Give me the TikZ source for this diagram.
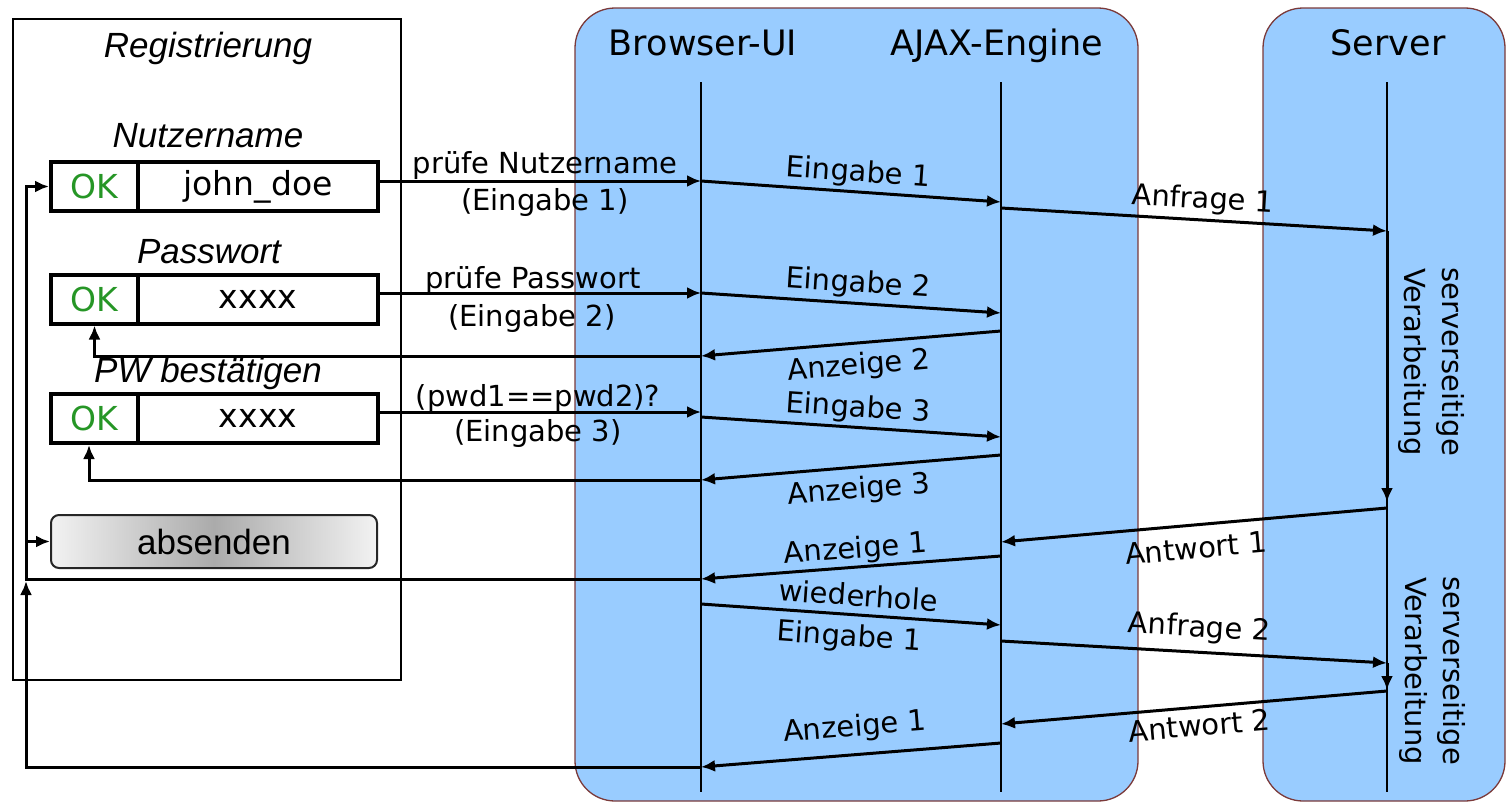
\documentclass[tikz,border=0pt]{standalone}
\usepackage{fontspec}
\setmainfont{DejaVu Sans}
\newfontfamily\arialfam{Liberation Sans}
\usetikzlibrary{arrows.meta}

\definecolor{lanefill}{HTML}{99CCFF}
\definecolor{laneedge}{HTML}{7B3A3A}
\definecolor{okgreen}{RGB}{38,150,38}

\newcommand\ttlsize{\fontsize{35}{42}\selectfont}
\newcommand\lblsize{\fontsize{29}{38}\selectfont}
\newcommand\formsize{\fontsize{35}{42}\selectfont}
\newcommand\fieldsize{\fontsize{33}{40}\selectfont}

\begin{document}
\begin{tikzpicture}[x=1pt,y=-1pt,
  lane/.style={fill=lanefill, draw=laneedge, line width=1.3pt, rounded corners=40pt},
  lifeline/.style={line width=2pt},
  msg/.style={line width=3pt, -{Latex[length=14pt,width=12pt]}},
  msgback/.style={line width=3pt, {Latex[length=14pt,width=12pt]}-},
  fb/.style={line width=3pt, -{Latex[length=14pt,width=12pt]}},
  ttl/.style={font=\ttlsize, inner sep=0pt, anchor=base},
  lbl/.style={font=\lblsize, inner sep=0pt, anchor=base},
  lblA/.style={font=\lblsize, sloped, above, inner sep=#1},
  lblA/.default=4pt,
  lblB/.style={font=\lblsize, sloped, below, inner sep=#1},
  lblB/.default=4pt,
  proc/.style={font=\lblsize, rotate=-90, align=center, inner sep=0pt},
  formlbl/.style={font=\arialfam\itshape\formsize, inner sep=0pt, anchor=base},
  okcell/.style={draw, line width=4pt, minimum width=87pt, minimum height=49pt,
    inner sep=0pt, font=\fieldsize, text=okgreen},
  valcell/.style={draw, line width=4pt, minimum width=240pt, minimum height=49pt,
    inner sep=0pt, font=\fieldsize},
  sendbtn/.style={draw=black!85, line width=2pt, rounded corners=8pt,
    minimum width=326pt, minimum height=53pt, inner sep=0pt,
    left color=black!5, right color=black!5, middle color=black!33,
    font=\arialfam\formsize}
]
\useasboundingbox (0,0) rectangle (1507,803);

% swim lanes
\draw[lane] (575,8) rectangle (1138,801);
\draw[lane] (1263,8) rectangle (1505,801);

% registration form
\draw[line width=2pt] (13,19) rectangle (401,680);
\node[formlbl] (tReg) at (208,57) {Registrierung};
\node[formlbl] (tUser) at (208,147) {Nutzername};
\node[formlbl] (tPw) at (209,263) {Passwort};
\node[formlbl] (tPw2) at (208,382) {PW bestätigen};

\node[okcell] (f1ok) at (94.5,186.5) {OK};
\node[valcell] (f1val) at (258,186.5) {john\_doe};
\node[okcell] (f2ok) at (94.5,299) {OK};
\node[valcell] (f2val) at (258,299) {xxxx};
\node[okcell] (f3ok) at (94.5,418.5) {OK};
\node[valcell] (f3val) at (258,418.5) {xxxx};
\node[sendbtn] (send) at (214,541.5) {absenden};

% lane titles
\node[ttl] (tUI) at (703,55) {Browser-UI};
\node[ttl] (tAJ) at (997,55) {AJAX-Engine};
\node[ttl] (tSV) at (1388,55) {Server};

% lifelines
\coordinate (uiTop) at (701,82);  \coordinate (uiBot) at (701,792);
\coordinate (ajTop) at (1001,82); \coordinate (ajBot) at (1001,792);
\coordinate (svTop) at (1387,82); \coordinate (svBot) at (1387,792);
\draw[lifeline] (uiTop) -- (uiBot);
\draw[lifeline] (ajTop) -- (ajBot);
\draw[lifeline] (svTop) -- (svBot);

% message end points
\coordinate (uiA) at (701,181);  \coordinate (ajA) at (1001,202);
\coordinate (ajB) at (1001,208); \coordinate (svB) at (1387,231);
\coordinate (svB2) at (1387,502); \coordinate (svC) at (1387,508);
\coordinate (uiC) at (701,293);  \coordinate (ajC) at (1001,313);
\coordinate (ajD) at (1001,331); \coordinate (uiD) at (701,356);
\coordinate (uiE0) at (701,412); \coordinate (uiE) at (701,417);
\coordinate (ajE) at (1001,437);
\coordinate (ajF) at (1001,455); \coordinate (uiF) at (701,480);
\coordinate (ajG) at (1001,542);
\coordinate (ajH) at (1001,556); \coordinate (uiH) at (701,579);
\coordinate (uiI) at (701,604);  \coordinate (ajI) at (1001,625);
\coordinate (ajJ) at (1001,641); \coordinate (svJ) at (1387,663);
\coordinate (svJ2) at (1387,690); \coordinate (svK) at (1387,691);
\coordinate (ajK) at (1001,724);
\coordinate (ajL) at (1001,743); \coordinate (uiL) at (701,767);
\coordinate (lx) at (26,0);

% form -> browser
\draw[msg] (f1val.east |- uiA) -- (uiA);
\draw[msg] (f2val.east |- uiC) -- (uiC);
\draw[msg] (f3val.east |- uiE0) -- (uiE0);
\node[lbl] (l1a) at (545,173.3) {prüfe Nutzername};
\node[lbl] (l1b) at (545,210.7) {(Eingabe 1)};
\node[lbl] (l2a) at (533,288.3) {prüfe Passwort};
\node[lbl] (l2b) at (532,326.7) {(Eingabe 2)};
\node[lbl] (l3a) at (538,406.7) {(pwd1==pwd2)?};
\node[lbl] (l3b) at (538,441.7) {(Eingabe 3)};

% browser <-> engine <-> server
\draw[msg] (uiA) -- node[lblA=3pt, pos=.52] {Eingabe 1} (ajA);
\draw[msg] (ajB) -- node[lblA=4pt, pos=.52] {Anfrage 1} (svB);
\draw[msg] (svB) -- (svB2);
\draw[msg] (uiC) -- node[lblA=3.5pt, pos=.52] {Eingabe 2} (ajC);
\draw[msgback] (uiD) -- node[lblB=8pt, pos=.52] {Anzeige 2} (ajD);
\draw[msg] (uiE) -- node[lblA=3pt, pos=.52] {Eingabe 3} (ajE);
\draw[msgback] (uiF) -- node[lblB=8pt, pos=.52] {Anzeige 3} (ajF);
\draw[msgback] (ajG) -- node[lblB=11pt, pos=.5] {Antwort 1} (svC);
\draw[msgback] (uiH) -- node[lblA=1.5pt, pos=.52] {Anzeige 1} (ajH);
\draw[msg] (uiI) -- node[lblA=7pt, pos=.52] {wiederhole}
                    node[lblB=8pt, pos=.5] {Eingabe 1} (ajI);
\draw[msg] (ajJ) -- node[lblA=8pt, pos=.51] {Anfrage 2} (svJ);
\draw[msg] (svJ) -- (svJ2);
\draw[msgback] (ajK) -- node[lblB=6pt, pos=.51] {Antwort 2} (svK);
\draw[msgback] (uiL) -- node[lblA=11pt, pos=.52] {Anzeige 1} (ajL);

\node[proc] (proc1) at (1431,362) {serverseitige\\Verarbeitung};
\node[proc] (proc2) at (1432,671) {serverseitige\\Verarbeitung};

% feedback into the form
\draw[fb] (uiD) -| (f2ok.south);
\draw[fb] (uiF) -| ([xshift=-5.5pt]f3ok.south);
\draw[fb] (uiH) -- (uiH -| lx) |- (f1ok.west);
\draw[fb] (lx |- send.west) -- (send.west);
\draw[fb] (uiL) -- (uiL -| lx) -- ([yshift=-2pt]uiH -| lx);
\end{tikzpicture}
\end{document}
